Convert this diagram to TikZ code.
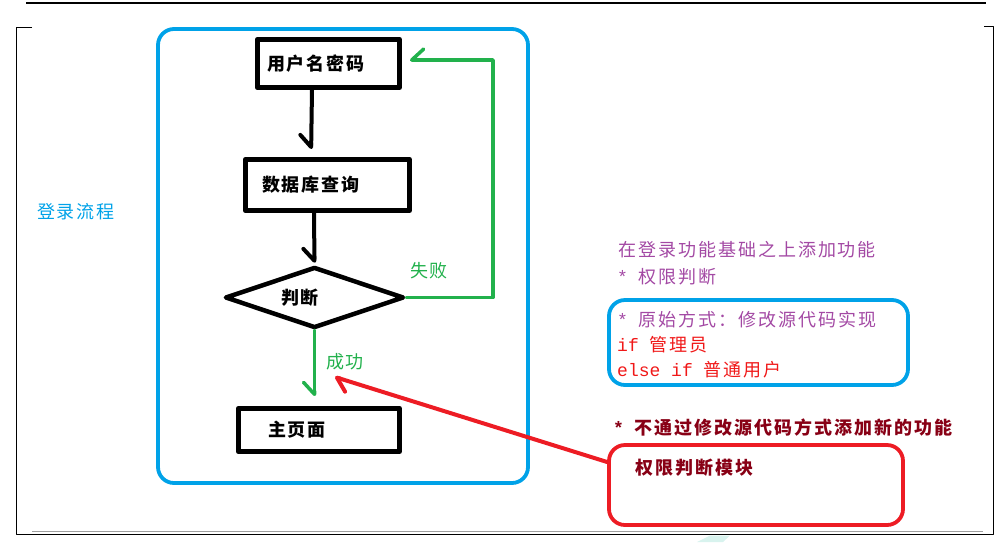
\documentclass[tikz,border=0pt]{standalone}
\usepackage{fontspec}
\newfontfamily\cjk[LetterSpace=11]{Noto Sans CJK SC}
\newfontfamily\mono{Liberation Mono}
\usetikzlibrary{shapes.geometric,arrows.meta}
\definecolor{pblue}{HTML}{00A2E8}
\definecolor{pgreen}{HTML}{22B14C}
\definecolor{pred}{HTML}{ED1C24}
\definecolor{ppurple}{HTML}{A349A4}
\definecolor{pdark}{HTML}{880015}
\definecolor{tred}{HTML}{F01818}
\definecolor{wmk}{HTML}{D8F3EE}
\tikzset{
  cjkfont/.style={font={\fontsize{18}{20}\selectfont\cjk}},
  cjkbold/.style={font={\fontsize{18}{20}\selectfont\cjk\bfseries}},
  flowbox/.style={draw, line width=4.5pt, inner ysep=0pt, align=left, cjkbold},
  txt/.style={inner sep=0pt, anchor=west, cjkfont},
  frameline/.style={line width=1pt, line cap=butt},
  barbtip/.style={-{Straight Barb[harpoon,swap,length=12pt,width=22pt,line cap=round,line join=round]}},
  barbtipl/.style={-{Straight Barb[harpoon,length=12pt,width=22pt,line cap=round,line join=round]}},
  blackarrow/.style={line width=4pt, barbtip},
  greenarrow/.style={draw=pgreen, line width=3.5pt, barbtip},
  redarrow/.style={draw=pred, line width=4pt, barbtipl},
  roundbox/.style={line width=3.8pt, rounded corners=16pt, inner sep=0pt},
}
\begin{document}
\begin{tikzpicture}[x=1pt,y=-1pt,line cap=round,line join=round]
\useasboundingbox (0,0) rectangle (1004,542);
% page frame
\fill[wmk] (710,535.5) -- (730,535.5) -- (723,542) -- (697,542) -- cycle;
\draw[line width=2pt, line cap=butt] (26,3) -- (986,3);
\draw[frameline] (32,27) -- (16.3,27) -- (16.3,534) -- (993.3,534) -- (993.3,26.3) -- (984,26.3);
\draw[line width=1.5pt, line cap=butt, draw=black!38] (32,531.3) -- (983,531.3);
% containers
\node[roundbox, draw=pblue, minimum width=370pt, minimum height=454pt] (flow) at (343,256) {};
\node[roundbox, draw=pblue, minimum width=299pt, minimum height=85pt] (orig) at (758.5,342.5) {};
\node[roundbox, draw=pred, minimum width=294pt, minimum height=80pt] (mod) at (756,485) {};
% flow chart
\node[flowbox, inner xsep=9.7pt, text width=123pt, minimum height=48.4pt] (box1) at (328.5,63.5) {用户名密码};
\node[flowbox, inner xsep=16.7pt, text width=131pt, minimum height=51.4pt] (box2) at (327.5,185) {数据库查询};
\node[flowbox, inner xsep=29.7pt, text width=102pt, minimum height=43.4pt] (box3) at (319,430) {主页面};
\node[diamond, draw, line width=4.5pt, minimum width=179pt, minimum height=61pt, inner sep=0pt] (dec) at (314.5,297.5) {};
\node[cjkbold, inner sep=0pt] (dect) at (300,298) {判断};
\coordinate (gx) at (493,0);
\coordinate (fb) at ([yshift=3.5pt]box1.east);
\coordinate (rt) at (335,377);
\draw[blackarrow, shorten >=8pt] ([xshift=-16.5pt]box1.south) -- ([xshift=-16.5pt]box2.north);
\draw[blackarrow, shorten >=2pt] ([xshift=-13.5pt]box2.south) -- (dec.north);
\draw[greenarrow, shorten >=8pt] (dec.east) -| (gx |- fb) -- (fb);
\draw[greenarrow, shorten >=10pt] (dec.south) -- ([xshift=-4.5pt]box3.north);
\draw[redarrow] ([yshift=23pt]mod.west) -- (rt);
% labels
\node[cjkfont, text=pgreen, inner sep=0pt] (fail) at (429,271) {失败};
\node[cjkfont, text=pgreen, inner sep=0pt] (succ) at (345,362) {成功};
\node[cjkfont, text=pblue, inner sep=0pt] (title) at (76,212) {登录流程};
% right side texts
\node[txt, text=ppurple] (t1) at (618,250) {在登录功能基础之上添加功能};
\node[txt, text=ppurple] (t2) at (617,277) {{\mono\fontsize{18}{20}\selectfont * }权限判断};
\node[txt, text=ppurple] (t3) at (617,320) {{\mono\fontsize{18}{20}\selectfont * }原始方式：修改源代码实现};
\node[txt, text=tred] (t4) at (617,345) {{\mono\fontsize{18}{20}\selectfont if }管理员};
\node[txt, text=tred] (t5) at (617,370) {{\mono\fontsize{18}{20}\selectfont else if }普通用户};
\node[txt, cjkbold, text=pdark] (t6) at (613,428) {{\mono\fontsize{18}{20}\selectfont * }不通过修改源代码方式添加新的功能};
\node[txt, cjkbold, text=pdark] (t7) at (635,468) {权限判断模块};
\end{tikzpicture}
\end{document}
